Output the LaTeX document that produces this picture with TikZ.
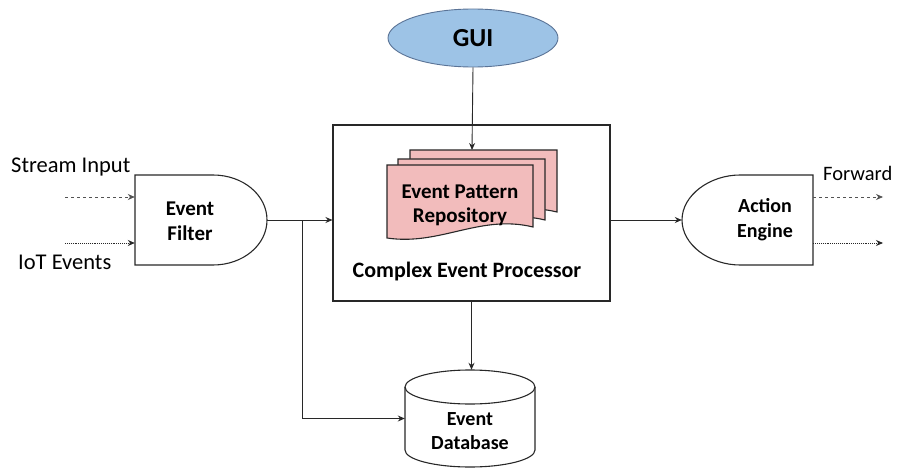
\documentclass[tikz,border=0pt]{standalone}
\usepackage{fontspec}
\setmainfont{Carlito}
\usetikzlibrary{arrows.meta,shapes.geometric,calc}
\definecolor{guiblue}{RGB}{157,195,230}
\definecolor{guiedge}{RGB}{90,115,150}
\definecolor{repopink}{RGB}{242,188,188}
\definecolor{edge}{RGB}{40,40,40}
\tikzset{
  conn/.style={draw=edge,line width=0.9pt,-{Stealth[length=7pt,width=6pt]}},
  inconn/.style={draw=edge!80,line width=0.8pt,dashed,-{Stealth[length=7pt,width=6pt]}},
  inconnb/.style={draw=edge,line width=0.9pt,densely dotted,-{Stealth[length=7pt,width=6pt]}},
  shapeline/.style={draw=edge,line width=1.1pt},
  doc/.style={shapeline,fill=repopink},
  lbl/.style={font=\fontsize{22.5}{26}\selectfont,inner sep=0pt},
  blbl/.style={font=\bfseries\fontsize{20}{25}\selectfont,align=center,inner sep=0pt},
  holder/.style={inner sep=0pt,draw=none},
}
\begin{document}
\begin{tikzpicture}[x=1pt,y=-1pt]
\useasboundingbox (0,0) rectangle (897,468);
% GUI
\node[ellipse,draw=guiedge,fill=guiblue,line width=0.9pt,minimum width=170pt,minimum height=58pt,inner sep=0pt,font=\bfseries\fontsize{26}{30}\selectfont] (gui) at (473,38) {GUI};
% CEP box
\node[holder,shapeline,minimum width=277pt,minimum height=176pt] (cep) at (471.5,213) {};
\node[blbl,font=\bfseries\fontsize{22}{26}\selectfont] (ceplbl) at (467,272) {Complex Event Processor};
% repository documents
\draw[doc] (410,150) -- (557,150) -- (557,212) .. controls (504,199) and (464,231) .. (410,223) -- cycle;
\draw[doc] (398,159) -- (545,159) -- (545,220) .. controls (492,207) and (452,239) .. (398,231) -- cycle;
\draw[doc] (387,165) -- (533,165) -- (533,227) .. controls (480,214) and (440,246) .. (387,238) -- cycle;
\node[blbl,font=\bfseries\fontsize{21}{24}\selectfont] (repo) at (460,205) {Event Pattern\\Repository};
\coordinate (repotop) at (472,150);
% Event filter
\node[holder,minimum width=132pt,minimum height=90pt] (filter) at (201,220) {};
\draw[shapeline] (135,175) -- (213,175) .. controls (243,175) and (267,195) .. (267,220)
  .. controls (267,245) and (243,265) .. (213,265) -- (135,265) -- cycle;
\node[blbl,font=\bfseries\fontsize{21}{25}\selectfont] (filterlbl) at (190,221) {Event\\Filter};
% Action engine
\node[holder,minimum width=131pt,minimum height=90pt] (action) at (747.5,220) {};
\draw[shapeline] (813,175) -- (740,175) .. controls (710,175) and (682,195) .. (682,220)
  .. controls (682,245) and (710,265) .. (740,265) -- (813,265) -- cycle;
\node[blbl] (actionlbl) at (765,220) {Action\\Engine};
% Event database
\node[holder,minimum width=130pt,minimum height=97pt] (db) at (470,418.5) {};
\draw[shapeline,fill=white] (405,387) -- (405,450) .. controls (405,459.4) and (434.1,467) .. (470,467)
  .. controls (505.9,467) and (535,459.4) .. (535,450) -- (535,387);
\draw[shapeline] (470,387) ellipse [x radius=65pt, y radius=17pt];
\node[blbl,font=\bfseries\fontsize{20}{24}\selectfont] (dblbl) at (470,431) {Event\\Database};
% labels
\node[lbl,anchor=west] (silbl) at (11,167) {Stream Input};
\node[lbl,anchor=west] (iotlbl) at (18,262) {IoT Events};
\node[lbl,anchor=west,font=\fontsize{20.5}{24}\selectfont] (fwlbl) at (823,173) {Forward};
% connectors
\coordinate (si) at (65,197);
\coordinate (iot) at (65,243);
\coordinate (fw) at (883,197);
\coordinate (out2) at (883,243);
\coordinate (br) at (302,220);
\draw[inconn] (si) -- (si -| filter.west);
\draw[inconnb] (iot) -- (iot -| filter.west);
\draw[conn] (filter.east) -- (filter.east -| cep.west);
\draw[conn] (br) |- (db.west);
\draw[conn] (gui.south) -- (repotop);
\draw[conn] (cep.south) -- (cep.south |- db.north);
\draw[conn] (action.west -| cep.east) -- (action.west);
\draw[inconn] (fw -| action.east) -- (fw);
\draw[inconnb] (out2 -| action.east) -- (out2);
\end{tikzpicture}
\end{document}
